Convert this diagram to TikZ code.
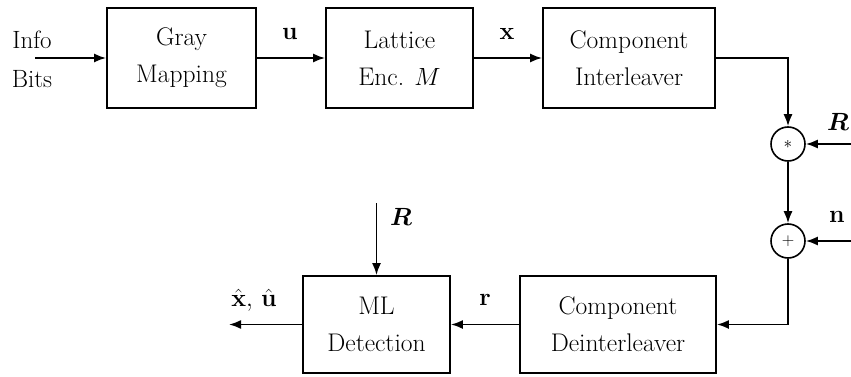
\documentclass[tikz,border=0pt]{standalone}
\usetikzlibrary{arrows.meta}
\usepackage{amsmath,bm}
\begin{document}
\begin{tikzpicture}[x=1pt,y=-1pt,
  blk/.style={draw, line width=1.8pt, align=center, inner sep=0pt,
    font=\fontsize{25.5}{37}\selectfont},
  opc/.style={draw, circle, line width=1.6pt, minimum size=34pt, inner sep=0pt,
    font=\fontsize{19}{20}\selectfont},
  lbl/.style={inner sep=0pt, font=\fontsize{25}{28}\selectfont},
  arr/.style={line width=1.8pt, -{Latex[length=12pt,width=9pt]}}]
\useasboundingbox (0,0) rectangle (851,377);
% blocks
\node[blk, minimum width=149pt, minimum height=100pt] (gray) at (181.5,58) {Gray\\Mapping};
\node[blk, minimum width=147pt, minimum height=100pt] (lat) at (399.5,58) {Lattice\\Enc. $M$};
\node[blk, minimum width=172pt, minimum height=100pt] (inter) at (629,58) {Component\\Interleaver};
\node[blk, minimum width=147pt, minimum height=97pt] (det) at (376.5,324.5) {ML\\Detection};
\node[blk, minimum width=196pt, minimum height=97pt] (deint) at (618,324.5) {Component\\Deinterleaver};
\node[opc] (mul) at (788,144) {$*$};
\node[opc] (add) at (788,241) {$+$};
% free ends
\coordinate (in) at (35,58);
\coordinate (Rin) at (851,144);
\coordinate (nin) at (851,241);
\coordinate (out) at (229,324.5);
\coordinate (Rtop) at (376.5,203);
% connectors
\draw[arr] (in) -- (gray);
\draw[arr] (gray) -- (lat);
\draw[arr] (lat) -- (inter);
\draw[arr] (inter.east) -| (mul);
\draw[arr] (Rin) -- (mul);
\draw[arr] (mul) -- (add);
\draw[arr] (nin) -- (add);
\draw[arr] (add) |- (deint);
\draw[arr] (deint) -- (det);
\draw[arr] (det) -- (out);
\draw[arr] (Rtop) -- (det);
% labels
\node[lbl] (info) at (32,40) {Info};
\node[lbl] (bits) at (32,79) {Bits};
\node[lbl] (lu) at (290,34) {$\mathbf{u}$};
\node[lbl] (lx) at (507,34) {$\mathbf{x}$};
\node[lbl] (lR1) at (838,122) {$\bm{R}$};
\node[lbl] (ln) at (837,217) {$\mathbf{n}$};
\node[lbl] (lR2) at (401,217) {$\bm{R}$};
\node[lbl] (lr) at (485,300) {$\mathbf{r}$};
\node[lbl] (lxu) at (254,300) {$\hat{\mathbf{x}},\,\hat{\mathbf{u}}$};
\end{tikzpicture}
\end{document}
